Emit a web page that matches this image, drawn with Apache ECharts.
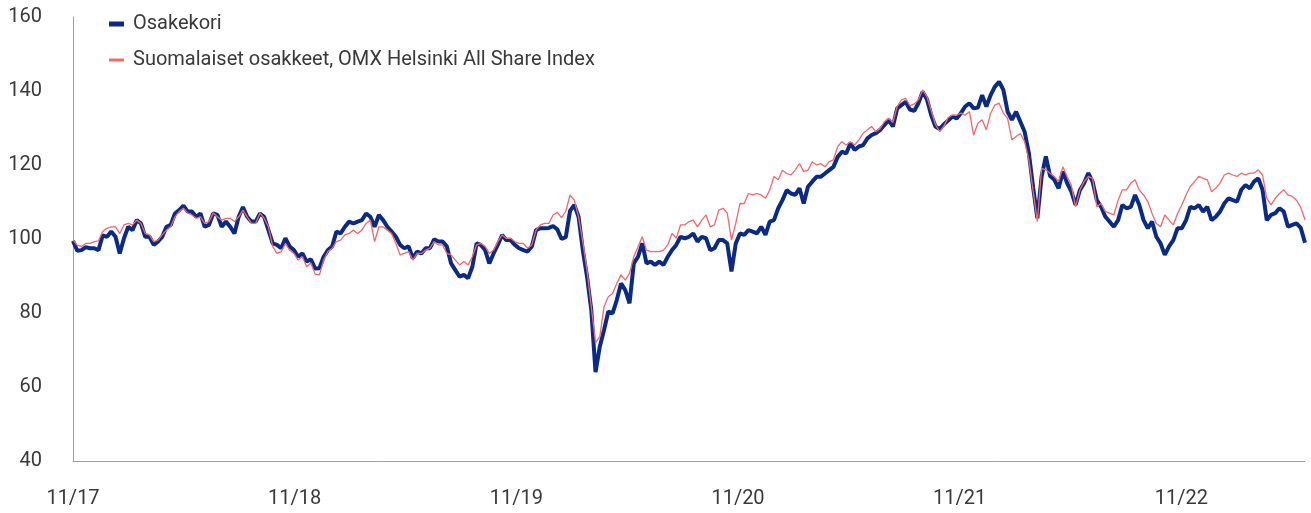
<!DOCTYPE html>
<html>
<head>
<meta charset="utf-8">
<script src="https://cdn.jsdelivr.net/npm/echarts@6/dist/echarts.min.js"></script>
<style>
  html, body { margin: 0; padding: 0; background: #fff; }
  #chart { width: 1311px; height: 513px; }
</style>
</head>
<body>
<div id="chart"></div>
<script>
// weekly points from 1.11.2017
const startLabel = '2017-11-01';
const tickLabels = ['11/17', '11/18', '11/19', '11/20', '11/21', '11/22'];

const osakekori = [
  99.5, 96.8, 97, 97.8, 97.5, 97.5, 97, 101, 100.6, 102,
  100.6, 96.1, 100.2, 103.3, 102.4, 105.1, 104.2, 100.6, 100.6, 98.4,
  99.3, 100.6, 103.3, 103.8, 106.9, 107.8, 109, 107.4, 107.4, 106,
  106.9, 103.3, 103.8, 106.9, 106.5, 103.3, 104.7, 103.3, 101.5, 106,
  108.6, 106, 104.7, 104.7, 106.9, 106, 102.4, 98.8, 98.4, 97.5,
  100.2, 98, 97, 95.2, 96.1, 93.9, 94.5, 92, 92.1, 95.2,
  97, 98, 102, 101.5, 103.3, 104.7, 104.2, 104.7, 105.1, 106.9,
  106, 103.3, 106.5, 105.1, 103.3, 102, 100.6, 98.4, 97.5, 98,
  94.8, 96.6, 96.1, 97.5, 97.5, 99.9, 99.3, 99.3, 98, 93.4,
  91.6, 89.8, 90.3, 89.4, 92.5, 98.8, 98.4, 97, 93.4, 96.1,
  98.4, 101.1, 99.7, 99.7, 98.4, 97.5, 97, 96.6, 98, 102.4,
  102.9, 102.9, 103, 103.5, 102.6, 100, 100.5, 107.6, 109.2, 106,
  97, 89.8, 80.8, 64, 70.9, 75.4, 80.4, 79.9, 83.5, 88,
  86.2, 82.6, 93.4, 95.2, 98.8, 93.4, 93.9, 93, 93.9, 93,
  95.2, 97, 98.4, 100.6, 100.2, 100.6, 101.5, 99.3, 100.6, 100.2,
  97, 97.5, 99.7, 99.7, 98.8, 91.2, 98.8, 101.5, 101.1, 102.4,
  102, 101.5, 103.3, 101.1, 104.7, 105.1, 108.3, 110.5, 113.2, 112.3,
  111.9, 113.7, 109.6, 114.1, 115.5, 116.8, 116.8, 117.7, 118.6, 119.5,
  122.2, 123.6, 123.1, 125.9, 124.1, 125, 125.4, 127.2, 128.1, 128.6,
  129.5, 130.8, 132.2, 130.4, 135.3, 136.2, 137.1, 135, 134.6, 136.7,
  139.8, 137.8, 133.5, 130.4, 129.7, 131, 132, 133.1, 132.6, 134,
  135.8, 136.7, 135.3, 135.5, 138.9, 135.8, 138.9, 141.2, 142.5, 140.3,
  134.4, 132.2, 134.4, 131.7, 129, 123.2, 114, 105.6, 116.9, 122.3,
  117, 116, 113.7, 118.2, 115.1, 112.8, 109.2, 113.2, 115.1, 117.8,
  115.5, 110.5, 108.7, 106, 104.7, 103.3, 105.1, 109.2, 108.3, 108.7,
  111.9, 109.2, 105.1, 102.9, 104.7, 100.6, 98.8, 95.7, 98, 99.7,
  102.9, 102.9, 105.1, 108.7, 108.3, 109.2, 107.4, 108.7, 105.1, 106,
  107.4, 109.6, 111, 110.5, 110.1, 113.3, 114.6, 113.7, 115.5, 116.4,
  113.3, 105.1, 106.5, 107, 108.3, 107.4, 103.3, 103.8, 104.2, 103,
  99
];

const omxHelsinki = [
  99.8, 98.3, 98, 98.8, 98.8, 99.3, 99.5, 102, 102.9, 103.3,
  103.3, 101.5, 103.8, 104.2, 103.8, 105.1, 104.2, 101.5, 101.1, 99.3,
  99.7, 101.1, 102.4, 103.3, 106, 107.4, 108.3, 107, 106.5, 105.6,
  106, 104.2, 104.7, 107, 106, 105.1, 105.6, 105.6, 104.7, 106,
  107.8, 106, 104.2, 104.2, 107, 105.6, 103.3, 98, 96.1, 96.6,
  98.8, 97, 96.1, 94.3, 95.2, 92.5, 93.5, 90.5, 90.3, 94.3,
  96.6, 97.5, 99.3, 99.7, 101.1, 101.5, 102.4, 101.5, 102.4, 104.2,
  105.1, 99.3, 103.3, 103.3, 102.4, 101.5, 98.8, 95.7, 96.1, 96.6,
  94.3, 96.1, 96.1, 97, 97.5, 99.3, 98.4, 98.4, 96.1, 95.7,
  94.3, 93, 93.9, 93, 95.2, 98.4, 98.8, 98, 96.1, 97,
  99.3, 101.1, 100.2, 100.2, 99.3, 98.8, 98.8, 97.5, 98.4, 102.4,
  103.8, 104.2, 104.2, 106.5, 107.2, 105.8, 107.5, 111.9, 110.5, 106,
  99.3, 91.5, 81.7, 72, 73.6, 81.7, 84.4, 85.3, 88, 90.3,
  88.9, 90.7, 95.2, 97.9, 100.6, 97, 96.6, 96.6, 96.6, 97,
  98.4, 101.5, 100.2, 103.8, 103.8, 104.7, 105.1, 103.3, 105.1, 106.5,
  103.3, 103.8, 107.8, 108.3, 107, 99.7, 104.2, 109.6, 109.6, 112.3,
  111.9, 112.3, 111.9, 111, 113.2, 116.9, 116, 118.6, 117.7, 117.3,
  118.6, 120.4, 118.2, 118.6, 120.9, 120, 120.4, 119.5, 120.9, 121.4,
  125, 126.3, 125.4, 126.3, 125.4, 126.8, 128.6, 129.5, 130.4, 129,
  129.9, 131.7, 132.6, 131.5, 135.8, 137.6, 138, 136, 136.5, 137.6,
  140.3, 138.5, 134.7, 131, 129, 130.5, 132.8, 133.5, 133.5, 134,
  133.5, 134.4, 128.1, 131.3, 132.2, 129.5, 134, 136.2, 136.7, 134,
  132.6, 126.8, 127.7, 128.5, 126.3, 121.4, 113, 104.7, 119.1, 118.7,
  117.8, 116.9, 115.5, 119.5, 116.9, 114.5, 108.7, 113.2, 115.5, 116.9,
  116.4, 108.7, 109.6, 107.4, 107, 106.5, 110.5, 113.3, 113.3, 115.1,
  116, 113.2, 111.9, 110.1, 106.9, 104.2, 103.3, 106.5, 105.1, 103.8,
  106.9, 109.2, 111.9, 114.2, 115.5, 116.9, 116.4, 116, 112.8, 113.7,
  115.1, 117.3, 117.8, 117.3, 116.9, 117.8, 117.3, 117.8, 117.8, 118.7,
  117.3, 111, 109.2, 111, 112.3, 113.3, 111.9, 111.5, 110.5, 108.5,
  105.2
];

// x = years since startLabel (weekly step)
const xYears = osakekori.map((v, j) => j * 7 / 365.25);
const xMax = xYears[xYears.length - 1];

const textColor = '#3a3a3a';
const axisColor = '#a0a0a0';
const blue = '#0b2a86';
const red = '#f4676a';

const chart = echarts.init(document.getElementById('chart'));
chart.setOption({
  animation: false,
  backgroundColor: '#fff',
  textStyle: { fontFamily: 'Roboto, sans-serif' },
  grid: { left: 73, right: 6, top: 17, bottom: 52, containLabel: false },
  legend: [
    {
      data: ['Osakekori'],
      left: 104, top: 9,
      icon: 'rect', itemWidth: 15, itemHeight: 5,
      textStyle: { color: textColor, fontSize: 20, padding: [0, 0, 0, 4] }
    },
    {
      data: ['Suomalaiset osakkeet, OMX Helsinki All Share Index'],
      left: 104, top: 45,
      icon: 'rect', itemWidth: 15, itemHeight: 3,
      textStyle: { color: textColor, fontSize: 20, padding: [0, 0, 0, 4] }
    }
  ],
  xAxis: {
    type: 'value',
    min: 0,
    max: xMax,
    interval: 1,
    splitLine: { show: false },
    axisTick: { show: false },
    axisLine: { show: true, lineStyle: { color: axisColor, width: 1 } },
    axisLabel: {
      color: textColor, fontSize: 20, margin: 28,
      showMaxLabel: false,
      formatter: v => tickLabels[v] !== undefined && Number.isInteger(v) ? tickLabels[v] : ''
    }
  },
  yAxis: {
    type: 'value',
    min: 40, max: 160, interval: 20,
    splitLine: { show: false },
    axisTick: { show: false },
    axisLine: { show: true, lineStyle: { color: axisColor, width: 1 } },
    axisLabel: { color: textColor, fontSize: 20, margin: 31 }
  },
  series: [
    {
      name: 'Osakekori',
      type: 'line',
      data: osakekori.map((v, j) => [xYears[j], v]),
      symbol: 'none',
      lineStyle: { color: blue, width: 4 },
      itemStyle: { color: blue },
      z: 2
    },
    {
      name: 'Suomalaiset osakkeet, OMX Helsinki All Share Index',
      type: 'line',
      data: omxHelsinki.map((v, j) => [xYears[j], v]),
      symbol: 'none',
      lineStyle: { color: red, width: 1.3 },
      itemStyle: { color: red },
      z: 3
    }
  ]
});
</script>
</body>
</html>
